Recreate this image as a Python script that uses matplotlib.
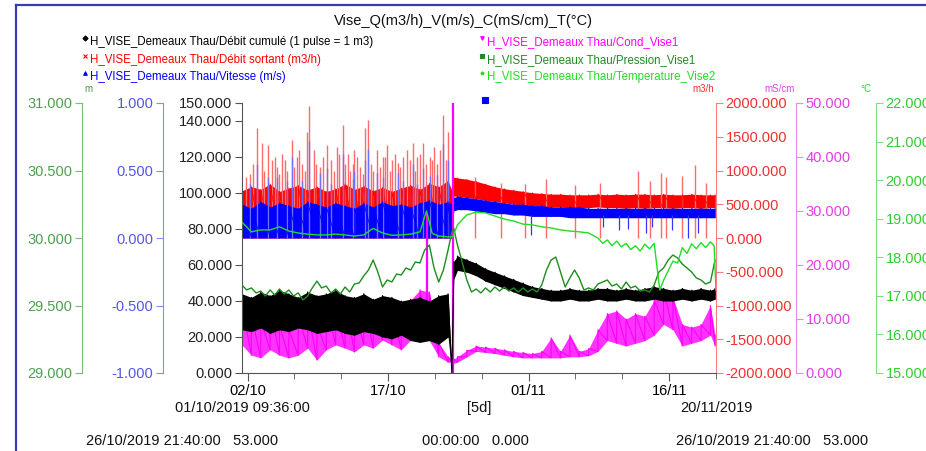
import numpy as np
import pandas as pd
import matplotlib
matplotlib.use("Agg")
import matplotlib.pyplot as plt
import matplotlib.dates as mdates
from matplotlib.lines import Line2D
from matplotlib.ticker import FormatStrFormatter, FixedLocator

plt.rcParams['font.family'] = ['Liberation Sans', 'DejaVu Sans']

# ---- data (days after 01/10/2019 09:36) ----
start = pd.Timestamp("2019-10-01 09:36")
days = list(range(0, 23)) + [22.4, 22.6] + list(range(23, 51)) + [50.5]

# Débit sortant (m3/h), min / max per day
debit_lo = [0, 0, 0, 0, 0, 0, 0, 0, 0, 0, 0, 0, 0, 0, 0, 0, 0, 0, 0, 0, 0, 0, 0,
            0, 620,
            620, 600, 580, 560, 540, 520, 500, 490, 480, 470, 460, 460, 450, 450,
            450, 460, 450, 450, 440, 450, 440, 450, 450, 440, 450, 450, 440, 450,
            450]
debit_hi = [700, 760, 720, 800, 690, 740, 780, 710, 760, 690, 730, 800, 720, 770,
            700, 750, 690, 740, 780, 720, 810, 760, 850,
            700, 900,
            890, 870, 840, 800, 760, 730, 710, 690, 670, 660, 650, 650, 640, 640,
            640, 650, 640, 650, 640, 650, 650, 640, 650, 640, 640, 650, 640, 640,
            640]
debit_spike_t = [0.4, 0.9, 1.2, 1.6, 2.1, 2.4, 2.8, 3.2, 3.5, 3.7, 4.0, 4.3, 4.6,
                 4.8, 5.3, 5.6, 5.9, 6.1, 6.4, 6.7, 6.9, 7.2, 7.7, 7.9, 8.3, 8.7,
                 9.1, 9.5, 9.8, 10.1, 10.4, 10.8, 11.0, 11.3, 11.5, 11.8, 12.0,
                 12.3, 12.6, 12.9, 13.1, 13.5, 13.8, 14.0, 14.4, 14.7, 15.1, 15.3,
                 15.5, 15.8, 16.0, 16.3, 16.6, 16.9, 17.2, 17.6, 17.9, 18.3, 18.5,
                 18.7, 19.0, 19.3, 19.6, 20.1, 20.3, 20.5, 20.8, 21.1, 21.5, 21.8,
                 22.0,
                 24.9, 27.6, 30.2, 32.4, 35.6, 38.2, 42.3, 43.6, 44.7, 45.3, 47.0,
                 48.4, 49.5]
debit_spike_v = [900, 950, 1100, 1630, 1410, 1000, 1380, 1150, 1200, 1050, 950,
                 1250, 1150, 1000, 1450, 1050, 1200, 1300, 1100, 1000, 1570, 1955,
                 1300, 1100, 1050, 1200, 1380, 1150, 1000, 1350, 1250, 1675, 1100,
                 1250, 1000, 1100, 1300, 1200, 1050, 950, 1630, 1750, 1100, 1000,
                 1300, 1050, 1200, 1200, 1380, 1000, 1150, 1250, 1110, 1050, 1200,
                 1300, 1150, 1410, 1000, 1200, 1250, 1410, 1100, 1200, 1150, 1350,
                 1100, 1300, 1820, 1150, 1570,
                 900, 820, 800, 880, 780, 820, 1000, 850, 960, 900, 920, 1080, 820]

# Vitesse (m/s)
vit_lo = [0, 0, 0, 0, 0, 0, 0, 0, 0, 0, 0, 0, 0, 0, 0, 0, 0, 0, 0, 0, 0, 0, 0,
          0, 0.20,
          0.21, 0.21, 0.20, 0.19, 0.18, 0.18, 0.17, 0.17, 0.16, 0.16, 0.16, 0.16,
          0.15, 0.15, 0.15, 0.15, 0.15, 0.15, 0.15, 0.15, 0.15, 0.15, 0.15, 0.15,
          0.15, 0.15, 0.15, 0.15,
          0.15]
vit_hi = [0.25, 0.22, 0.27, 0.23, 0.26, 0.24, 0.22, 0.27, 0.25, 0.23, 0.26, 0.24,
          0.22, 0.26, 0.23, 0.27, 0.24, 0.25, 0.23, 0.26, 0.28, 0.25, 0.27,
          0.25, 0.30,
          0.31, 0.30, 0.29, 0.28, 0.27, 0.26, 0.25, 0.25, 0.24, 0.24, 0.23, 0.23,
          0.23, 0.23, 0.22, 0.22, 0.22, 0.22, 0.22, 0.22, 0.22, 0.22, 0.22, 0.22,
          0.22, 0.22, 0.22, 0.22,
          0.22]
vit_spike_t = [0.9, 1.6, 2.8, 3.7, 4.8, 5.3, 6.4, 7.2, 8.3, 9.1, 9.5, 10.8, 11.8,
               12.0, 13.1, 13.5, 14.4, 15.1, 16.6, 17.2, 18.3, 18.7, 19.3, 20.1,
               20.8, 21.5, 22.0]
vit_spike_v = [0.40, 0.55, 0.45, 0.45, 0.42, 0.60, 0.42, 0.72, 0.48, 0.52, 0.40,
               0.62, 0.44, 0.50, 0.58, 0.66, 0.48, 0.45, 0.48, 0.42, 0.55, 0.40,
               0.52, 0.46, 0.47, 0.70, 0.58]
vit_dip_t = [30.8, 38.5, 40.2, 41.2, 43.1, 43.8, 45.9, 47.6, 48.7]
vit_dip_v = [0.02, 0.08, 0.06, 0.07, 0.04, 0.08, 0.06, 0.00, 0.04]

# Débit cumulé (1 pulse = 1 m3)
cumul_lo = [24, 23, 25, 22, 24, 23, 25, 24, 22, 23, 24, 22, 21, 23, 22, 20, 19,
            21, 18, 17, 18, 16, 20,
            0, 52,
            57, 56, 54, 51, 49, 47, 45, 43, 42, 41, 40, 40, 41, 40, 40, 41, 40,
            40, 41, 40, 40, 41, 40, 40, 41, 40, 41, 40,
            41]
cumul_hi = [44, 42, 45, 43, 46, 44, 42, 45, 43, 44, 46, 43, 42, 44, 41, 43, 42,
            40, 41, 42, 40, 43, 44,
            0, 62,
            65, 63, 61, 58, 56, 54, 52, 50, 48, 47, 46, 46, 47, 46, 46, 47, 47,
            46, 47, 46, 47, 48, 47, 46, 47, 46, 47, 46,
            47]

# Cond_Vise1 (mS/cm)
cond_lo = [5.2, 3.3, 2.8, 4.3, 3.3, 2.8, 3.3, 4.6, 2.4, 4.3, 5.2, 4.6, 3.9, 5.2,
           4.6, 6.1, 5.2, 4.3, 6.1, 6.5, 6.0, 3.0, 2.0,
           2.0, 1.8,
           2.0, 3.0, 4.0, 3.8, 3.6, 3.3, 3.0, 2.8, 2.8, 2.8, 2.8, 2.8, 3.0, 3.0,
           3.2, 4.0, 6.0, 5.5, 5.0, 5.5, 6.0, 7.0, 9.0, 8.0, 5.0, 5.5, 6.0, 7.0,
           5.0]
cond_hi = [12.6, 10.7, 9.8, 12.6, 8.9, 8.0, 10.7, 11.7, 8.9, 12.6, 11.7, 13.5,
           12.0, 13.5, 13.0, 13.5, 11.7, 12.6, 13.5, 15.4, 15.0, 5.6, 3.0,
           2.6, 2.6,
           3.0, 4.2, 5.0, 4.8, 4.6, 4.3, 4.0, 3.8, 3.6, 4.0, 6.5, 4.0, 7.0, 4.0,
           4.5, 8.0, 11.0, 11.5, 10.0, 11.0, 10.5, 13.5, 15.5, 14.0, 9.0, 8.5,
           9.0, 12.5,
           7.0]
cond_spike_t = [19.7, 22.5]
cond_spike_lo = [12.0, 0.0]
cond_spike_hi = [29.5, 50.0]

# Pression_Vise1 (m), half-day readings
press_days = list(np.arange(0, 22.5, 0.5)) + [22.4, 22.6] + list(np.arange(23, 51, 0.5))
press = [29.652, 29.615, 29.630, 29.593, 29.607, 29.570, 29.615, 29.578, 29.622,
         29.585, 29.615, 29.570, 29.593, 29.541, 29.570, 29.630, 29.681, 29.630,
         29.644, 29.593, 29.622, 29.585, 29.637, 29.600, 29.659, 29.667, 29.719,
         29.763, 29.837, 29.748, 29.637, 29.689, 29.674, 29.733, 29.726, 29.778,
         29.763, 29.822, 29.815, 29.911, 29.948, 29.778, 29.674, 29.763, 29.911,
         30.044,
         30.074, 29.948, 29.822, 29.689, 29.600, 29.622, 29.593, 29.630, 29.600,
         29.637, 29.607, 29.637, 29.607, 29.630, 29.600, 29.630, 29.600, 29.622,
         29.600, 29.652, 29.763, 29.837, 29.859, 29.748, 29.637, 29.704, 29.763,
         29.704, 29.615, 29.630, 29.615, 29.659, 29.674, 29.689, 29.644, 29.659,
         29.622, 29.674, 29.630, 29.644, 29.607, 29.615, 29.600, 29.652, 29.748,
         29.778, 29.837, 29.874, 29.852, 29.807, 29.778, 29.748, 29.704, 29.689,
         29.659, 29.674, 29.837]

# Temperature_Vise2 (°C)
temp_days = list(range(0, 20)) + [19.7, 20.3, 21, 22, 22.5] + list(range(23, 39)) + \
    [38.5, 39, 39.5, 40, 40.5, 41, 41.5, 42, 42.5, 43, 43.5, 44, 44.6, 45, 45.5,
     46, 46.5, 47, 47.5, 48, 48.5, 49, 49.5, 50, 50.4, 50.6]
temp = [18.91, 18.66, 18.71, 18.71, 18.79, 18.68, 18.63, 18.60, 18.58, 18.58,
        18.60, 18.58, 18.55, 18.58, 18.75, 18.63, 18.57, 18.58, 18.60, 18.66,
        19.20, 18.62, 18.55, 18.53, 18.53,
        18.84, 19.10, 19.17, 19.15, 19.07, 18.99, 18.94, 18.86, 18.84, 18.79,
        18.76, 18.71, 18.68, 18.66, 18.63, 18.50,
        18.36, 18.45, 18.30, 18.42, 18.27, 18.36, 18.20, 18.30, 18.16, 18.34,
        18.22, 18.36, 17.15, 17.40, 17.65, 17.90, 17.85, 18.25, 18.10, 18.35,
        18.22, 18.38, 18.25, 18.40, 18.30, 17.15]

x_ticks = ["2019-10-02", "2019-10-17", "2019-11-01", "2019-11-16"]
x_minor = ["2019-10-07", "2019-10-12", "2019-10-22", "2019-10-27", "2019-11-06",
           "2019-11-11", "2019-11-21"]

# ---- figure ----
W, H = 926, 451
fig = plt.figure(figsize=(W / 100, H / 100), dpi=100)
L, R, B, T = 242, 716, 373, 103
ax = fig.add_axes([L / W, 1 - B / H, (R - L) / W, (B - T) / H])

x0 = mdates.date2num(start)


def xs(d):
    return x0 + np.asarray(d, dtype=float)


def band(a, d, lo, hi, color, lw=0.6, alpha=1.0):
    a.fill_between(xs(d), lo, hi, color=color, lw=0, alpha=alpha)
    zt = np.repeat(xs(d), 2)
    zv = np.column_stack([lo, hi]).ravel()
    a.plot(zt, zv, color=color, lw=lw)


ax_q = ax.twinx()
ax_v = ax.twinx()
ax_c = ax.twinx()
ax_p = ax.twinx()
ax_t = ax.twinx()

zs = {ax_q: 1, ax_v: 2, ax_c: 3, ax: 4, ax_p: 5, ax_t: 6}
for a, z in zs.items():
    a.set_zorder(z)
    a.patch.set_visible(False)

# red: Débit sortant
ax_q.vlines(xs(debit_spike_t), 0, debit_spike_v, color="#ff6a6a", lw=1.0)
band(ax_q, days, debit_lo, debit_hi, "#ff0000")
# blue: Vitesse
ax_v.vlines(xs(vit_spike_t), 0, vit_spike_v, color="#7070ff", lw=1.0)
band(ax_v, days, vit_lo, vit_hi, "#0000ff")
ax_v.vlines(xs(vit_dip_t), vit_dip_v, 0.17, color="#3535ff", lw=0.9)
# magenta: Cond
band(ax_c, days, cond_lo, cond_hi, "#ff00ff", lw=0.8, alpha=0.8)
ax_c.vlines(xs(cond_spike_t), cond_spike_lo, cond_spike_hi, color="#ff00ff", lw=1.6)
# black: Débit cumulé
band(ax, days, cumul_lo, cumul_hi, "#000000", lw=0.8)
# dark green: Pression
ax_p.plot(xs(press_days), press, color="#1e8c1e", lw=1.0)
# light green: Temperature
ax_t.plot(xs(temp_days), temp, color="#22dd22", lw=1.0)

# ---- axes styling ----
ax.set_xlim(x0, x0 + 50.6)
ax.set_ylim(0, 150)
ax.yaxis.set_major_locator(FixedLocator([0, 20, 40, 60, 80, 100, 120, 140, 150]))
ax.set_xticks([mdates.date2num(pd.Timestamp(d)) for d in x_ticks])
ax.set_xticks([mdates.date2num(pd.Timestamp(d)) for d in x_minor], minor=True)
ax.xaxis.set_major_formatter(mdates.DateFormatter("%d/%m"))
ax.tick_params(axis="x", which="major", length=6, color="#555555", labelsize=10.5,
               pad=2)
ax.tick_params(axis="x", which="minor", length=4, color="#555555")
ax.tick_params(axis="y", length=5, color="#555555", labelsize=10.5, pad=2,
               labelcolor="#222222")
ax.spines["top"].set_visible(False)
ax.spines["right"].set_visible(False)
ax.spines["left"].set_color("#555555")
ax.spines["bottom"].set_color("#555555")

fmt = FormatStrFormatter("%.3f")
ax.yaxis.set_major_formatter(fmt)

specs = [
    (ax_v, "left", (163 - L) / (R - L), (-1, 1), [-1, -0.5, 0, 0.5, 1], "#8a8af5", "#5555ee"),
    (ax_p, "left", (82 - L) / (R - L), (29, 31), [29, 29.5, 30, 30.5, 31], "#7fb77f", "#4f9f4f"),
    (ax_q, "right", 1.0, (-2000, 2000), list(range(-2000, 2001, 500)), "#f28080", "#ee3030"),
    (ax_c, "right", (796 - L) / (R - L), (0, 50), [0, 10, 20, 30, 40, 50], "#e88ae8", "#e040e0"),
    (ax_t, "right", (876 - L) / (R - L), (15, 22), list(range(15, 23)), "#7fe07f", "#33cc33"),
]
for a, side, pos, lim, ticks, sc, tc in specs:
    for s in ["top", "bottom", "left", "right"]:
        a.spines[s].set_visible(False)
    a.spines[side].set_visible(True)
    a.spines[side].set_position(("axes", pos))
    a.spines[side].set_color(sc)
    a.yaxis.set_ticks_position(side)
    a.set_ylim(*lim)
    a.yaxis.set_major_locator(FixedLocator(ticks))
    a.yaxis.set_major_formatter(fmt)
    a.tick_params(axis="y", length=5, color=sc, labelcolor=tc, labelsize=10.5, pad=2)

# ---- texts ----
def ftxt(x, y, s, **kw):
    fig.text(x / W, 1 - y / H, s, **kw)


def fmark(x, y, m, c, ms=3.2):
    fig.add_artist(Line2D([x / W], [1 - y / H], marker=m, color=c, ms=ms, mew=0.8,
                          transform=fig.transFigure))


ftxt(463, 21, "Vise_Q(m3/h)_V(m/s)_C(mS/cm)_T(°C)", ha="center", va="center",
     fontsize=10.5, color="#111111")
leg_fs = 8.3
legend = [
    (90, 42, "H_VISE_Demeaux Thau/Débit cumulé (1 pulse = 1 m3)", "#000000", "D"),
    (90, 60, "H_VISE_Demeaux Thau/Débit sortant (m3/h)", "#ff0000", "x"),
    (90, 77, "H_VISE_Demeaux Thau/Vitesse (m/s)", "#0000ff", "^"),
    (487, 42, "H_VISE_Demeaux Thau/Cond_Vise1", "#ff00ff", "v"),
    (487, 60, "H_VISE_Demeaux Thau/Pression_Vise1", "#1e8c1e", "s"),
    (487, 77, "H_VISE_Demeaux Thau/Temperature_Vise2", "#22dd22", "*"),
]
for x, y, s, c, m in legend:
    ftxt(x, y, s, ha="left", va="center", fontsize=leg_fs, color=c)
    fmark(x - 5, y - 4, m, c, ms=2.6)

ftxt(88, 89, "m", ha="center", va="center", fontsize=7, color="#4f9f4f")
ftxt(703, 89, "m3/h", ha="center", va="center", fontsize=7, color="#ee3030")
ftxt(780, 89, "mS/cm", ha="center", va="center", fontsize=7, color="#e040e0")
ftxt(866, 89, "°C", ha="center", va="center", fontsize=7, color="#33cc33")

fmark(485, 100, "s", "#0000ff", ms=4)

ftxt(L, 408, "01/10/2019 09:36:00", ha="center", va="center", fontsize=10.5, color="#111111")
ftxt((L + R) / 2, 408, "[5d]", ha="center", va="center", fontsize=10.5, color="#111111")
ftxt(R, 408, "20/11/2019", ha="center", va="center", fontsize=10.5, color="#111111")
ftxt(86, 441, "26/10/2019 21:40:00   53.000", ha="left", va="center", fontsize=10.5, color="#111111")
ftxt(422, 441, "00:00:00   0.000", ha="left", va="center", fontsize=10.5, color="#111111")
ftxt(676, 441, "26/10/2019 21:40:00   53.000", ha="left", va="center", fontsize=10.5, color="#111111")

# frame lines of the window
fig.add_artist(Line2D([16 / W, 16 / W], [0, 1 - 5 / H], color="#3a3ab8", lw=1.6,
                      transform=fig.transFigure))
fig.add_artist(Line2D([16 / W, 1], [1 - 5 / H, 1 - 5 / H], color="#3a3ab8", lw=1.6,
                      transform=fig.transFigure))

fig.savefig("out.png", dpi=100, facecolor="white")
